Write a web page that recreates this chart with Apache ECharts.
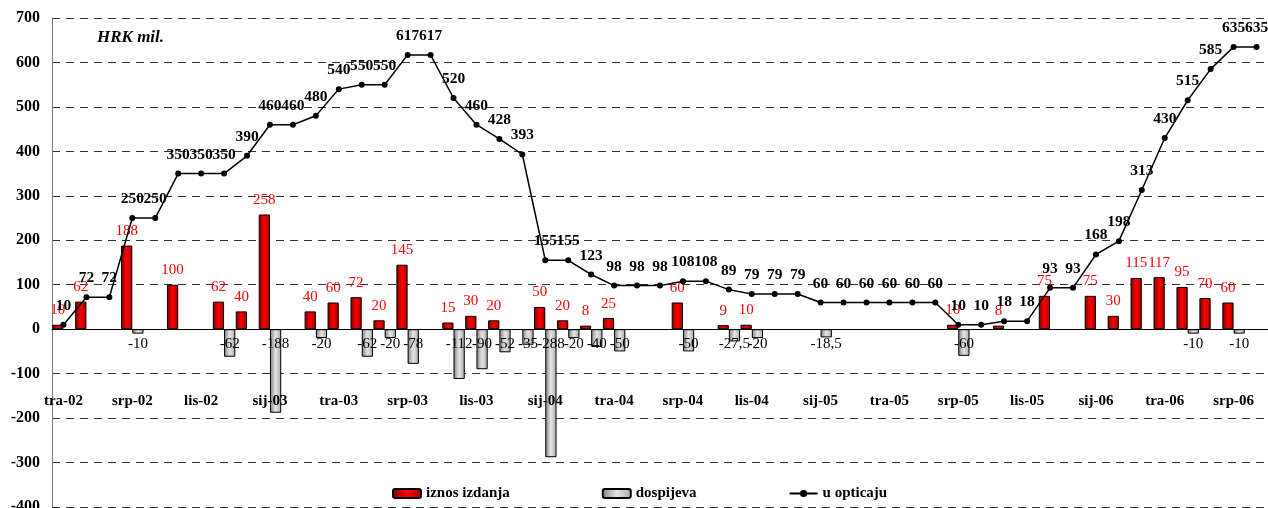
<!DOCTYPE html>
<html>
<head>
<meta charset="utf-8">
<script src="https://cdn.jsdelivr.net/npm/echarts@6/dist/echarts.min.js"></script>
<style>
  html, body { margin: 0; padding: 0; background: #fff; }
  #chart { width: 1268px; height: 508px; }
</style>
</head>
<body>
<div id="chart"></div>
<script>
// mjeseci od tra-02 do kol-06
const months = ['sij', 'vlj', 'ožu', 'tra', 'svi', 'lip', 'srp', 'kol', 'ruj', 'lis', 'stu', 'pro']
const categories = []
for (let y = 2002; y <= 2006; y++) {
  for (let m = 0; m < 12; m++) {
    if (y === 2002 && m < 3) continue
    if (y === 2006 && m > 7) continue
    categories.push(months[m] + '-' + String(y).slice(2))
  }
}

// iznos izdanja
const izdanja = [
  10, 62, null, 188, null, 100, null, 62, 40, 258,
  null, 40, 60, 72, 20, 145, null, 15, 30, 20,
  null, 50, 20, 8, 25, null, null, 60, null, 9,
  10, null, null, null, null, null, null, null, null, 10,
  null, 8, null, 75, null, 75, 30, 115, 117, 95,
  70, 60, null
]

// dospijeva
const dospijeva = [
  null, null, null, -10, null, null, null, -62, null, -188,
  null, -20, null, -62, -20, -78, null, -112, -90, -52,
  -35, -288, -20, -40, -50, null, null, -50, null, -27.5,
  -20, null, null, -18.5, null, null, null, null, null, -60,
  null, null, null, null, null, null, null, null, null, -10,
  null, -10, null
]

// u opticaju
const opticaj = [
  10, 72, 72, 250, 250, 350, 350, 350, 390, 460,
  460, 480, 540, 550, 550, 617, 617, 520, 460, 428,
  393, 155, 155, 123, 98, 98, 98, 108, 108, 89,
  79, 79, 79, 60, 60, 60, 60, 60, 60, 10,
  10, 18, 18, 93, 93, 168, 198, 313, 430, 515,
  585, 635, 635
]

const serif = 'Liberation Serif'

let myChart = echarts.init(document.getElementById('chart'))
myChart.setOption({
  animation: false,
  textStyle: { fontFamily: serif },
  grid: {
    top: 18,
    left: 52,
    right: 0,
    bottom: 1,
    containLabel: false,
    outerBoundsMode: 'none'
  },
  graphic: [
    {
      type: 'text',
      left: 97,
      top: 29,
      style: {
        text: 'HRK mil.',
        font: 'italic bold 17px "Liberation Serif"',
        fill: '#000'
      }
    }
  ],
  legend: {
    left: 387,
    top: 481,
    itemWidth: 28,
    itemHeight: 9,
    itemGap: 92,
    textStyle: { fontFamily: serif, fontWeight: 'bold', fontSize: 15, color: '#000' },
    data: ['iznos izdanja', 'dospijeva', 'u opticaju']
  },
  xAxis: {
    type: 'category',
    data: categories,
    z: 4,
    axisLine: { onZero: true, lineStyle: { color: '#000', width: 1 } },
    axisTick: { interval: 0, length: 6, lineStyle: { color: '#000' } },
    axisLabel: {
      interval: 2,
      margin: -113,
      fontFamily: serif,
      fontWeight: 'bold',
      fontSize: 15,
      color: '#000'
    }
  },
  yAxis: {
    type: 'value',
    min: -400,
    max: 700,
    interval: 100,
    axisLine: { show: true, lineStyle: { color: '#777' } },
    axisTick: { show: false },
    axisLabel: {
      margin: 12,
      fontFamily: serif,
      fontWeight: 'bold',
      fontSize: 16,
      color: '#000'
    },
    splitLine: {
      lineStyle: { type: [8, 6], color: '#333', width: 1 }
    }
  },
  series: [
    {
      name: 'iznos izdanja',
      type: 'bar',
      data: izdanja,
      barGap: '0%',
      barCategoryGap: '2%',
      itemStyle: {
        color: new echarts.graphic.LinearGradient(0, 0, 1, 0, [
          { offset: 0, color: '#7a0000' },
          { offset: 0.5, color: '#ff0000' },
          { offset: 1, color: '#a00000' }
        ]),
        borderColor: '#000',
        borderWidth: 1
      },
      label: {
        show: true,
        position: 'top',
        distance: 7,
        color: '#ff0000',
        fontFamily: serif,
        fontSize: 15
      }
    },
    {
      name: 'dospijeva',
      type: 'bar',
      data: dospijeva,
      itemStyle: {
        color: new echarts.graphic.LinearGradient(0, 0, 1, 0, [
          { offset: 0, color: '#7f7f7f' },
          { offset: 0.5, color: '#e6e6e6' },
          { offset: 1, color: '#a6a6a6' }
        ]),
        borderColor: '#000',
        borderWidth: 1
      },
      label: {
        show: true,
        position: 'insideTop',
        distance: 7,
        color: '#000',
        fontFamily: serif,
        fontSize: 15,
        formatter: p => String(p.value).replace('.', ',')
      }
    },
    {
      name: 'u opticaju',
      type: 'line',
      data: opticaj,
      z: 5,
      symbol: 'circle',
      symbolSize: 6,
      itemStyle: { color: '#000' },
      lineStyle: { color: '#000', width: 1.5 },
      label: {
        show: true,
        position: 'top',
        distance: 8,
        color: '#000',
        fontFamily: serif,
        fontWeight: 'bold',
        fontSize: 15.5
      }
    }
  ]
})
myChart.resize()
</script>
</body>
</html>
